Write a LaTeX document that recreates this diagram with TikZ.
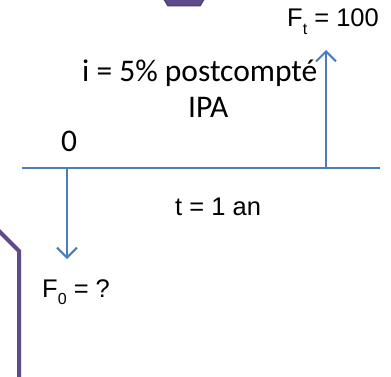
\documentclass[tikz,border=0pt]{standalone}
\usepackage{fontspec}
\setmainfont{Liberation Sans}
\newfontfamily\calib{Carlito}
\usetikzlibrary{arrows.meta}
\definecolor{axisblue}{HTML}{4A7EBB}
\definecolor{shapepurple}{HTML}{5F4B8B}
\definecolor{shapedark}{HTML}{45356A}
\newcommand{\lowsub}[1]{\raisebox{-0.28em}{\fontsize{16}{16}\selectfont #1}}
\tikzset{
  axisline/.style={draw=axisblue, line width=2pt},
  flow/.style={axisline, -{Straight Barb[length=10pt,width=20pt,line width=2pt]}},
  artxt/.style={inner sep=0pt, anchor=base west, font=\fontsize{25.5}{30}\selectfont},
  caltxt/.style={inner sep=0pt, anchor=base west, font=\calib\fontsize{31.5}{36}\selectfont},
}
\begin{document}
\begin{tikzpicture}[x=1pt,y=-1pt]
\useasboundingbox (0,0) rectangle (391,377);
% purple fragments
\fill[shapepurple, draw=shapedark, line width=1pt] (163,-2) -- (205,-2) -- (200,6) -- (168,6) -- cycle;
\draw[shapepurple, line width=4pt] (-6,226) -- (19,251) -- (19,380);
% axis
\coordinate (l) at (22,168);
\coordinate (r) at (380,168);
\coordinate (a0) at (67,168);
\coordinate (a1) at (326,168);
\coordinate (t0) at (67,259);
\coordinate (t1) at (326,50);
\draw[axisline] (l) -- (r);
\draw[flow] (a1) -- (t1);
\draw[flow] (a0) -- (t0);
% texts
\node[artxt] (ft) at (287,27) {F\lowsub{t} = 100};
\node[caltxt] (rate) at (82,82) {i = 5\% postcompté};
\node[caltxt] (ipa) at (188,118) {IPA};
\node[caltxt] (zero) at (61,152) {0};
\node[artxt] (dur) at (175,215) {t = 1 an};
\node[artxt] (f0) at (42,297) {F\lowsub{0} = ?};
\end{tikzpicture}
\end{document}
